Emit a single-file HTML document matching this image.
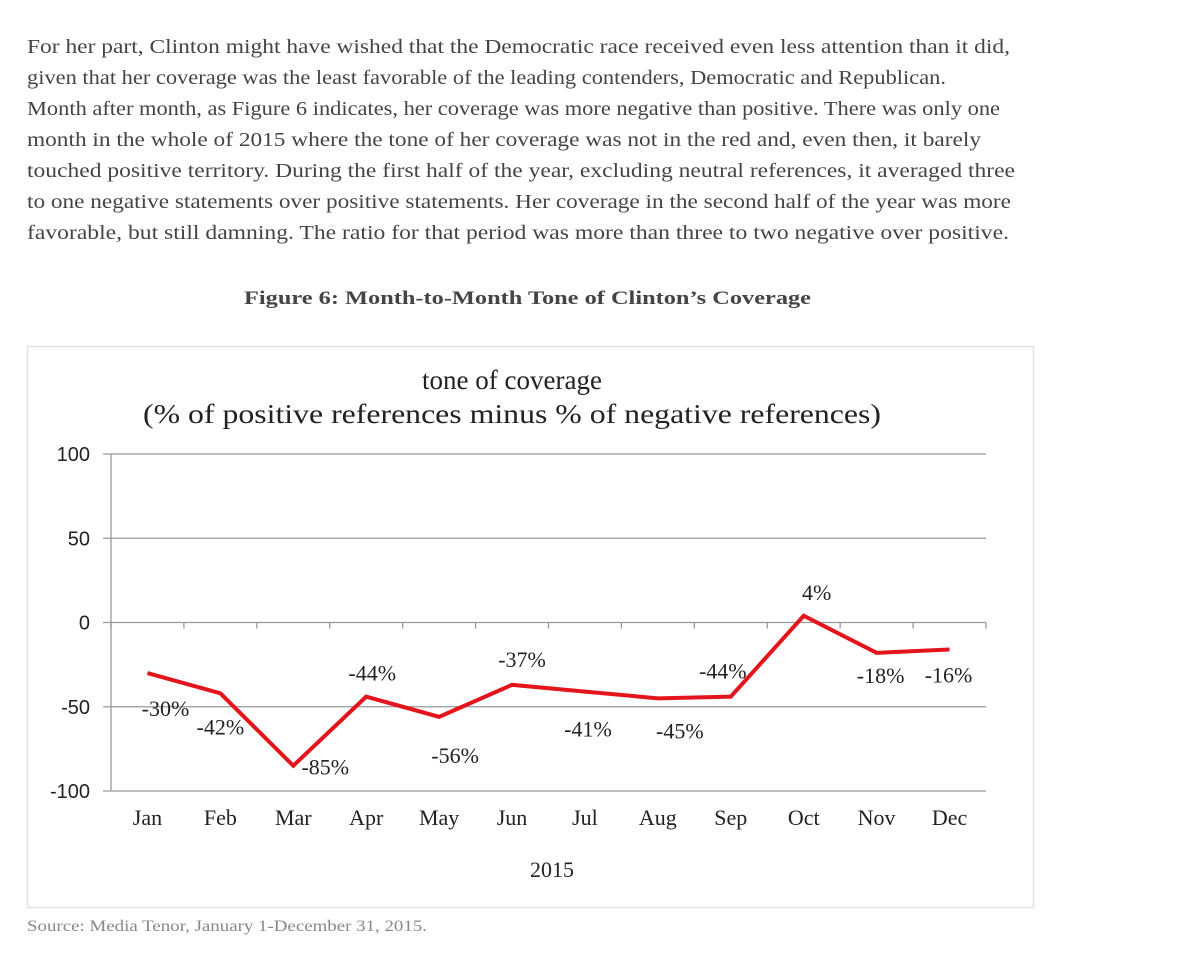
<!DOCTYPE html>
<html><head><meta charset="utf-8"><style>
html,body{margin:0;padding:0;background:#fff;width:1200px;height:975px;overflow:hidden}
svg{display:block}
.p{font-family:"Liberation Serif",serif;font-size:19.5px;fill:#444}
</style></head><body>
<svg id="page" width="1200" height="975" viewBox="0 0 1200 975">
<g>
<text class="p" x="27" y="53" textLength="983" lengthAdjust="spacingAndGlyphs">For her part, Clinton might have wished that the Democratic race received even less attention than it did,</text>
<text class="p" x="27" y="84" textLength="919" lengthAdjust="spacingAndGlyphs">given that her coverage was the least favorable of the leading contenders, Democratic and Republican.</text>
<text class="p" x="27" y="115" textLength="973" lengthAdjust="spacingAndGlyphs">Month after month, as Figure 6 indicates, her coverage was more negative than positive. There was only one</text>
<text class="p" x="27" y="146" textLength="954" lengthAdjust="spacingAndGlyphs">month in the whole of 2015 where the tone of her coverage was not in the red and, even then, it barely</text>
<text class="p" x="27" y="177" textLength="988" lengthAdjust="spacingAndGlyphs">touched positive territory. During the first half of the year, excluding neutral references, it averaged three</text>
<text class="p" x="27" y="208" textLength="984" lengthAdjust="spacingAndGlyphs">to one negative statements over positive statements. Her coverage in the second half of the year was more</text>
<text class="p" x="27" y="239" textLength="982" lengthAdjust="spacingAndGlyphs">favorable, but still damning. The ratio for that period was more than three to two negative over positive.</text>
</g>
<text x="244" y="304" textLength="567" lengthAdjust="spacingAndGlyphs" style="font-family:'Liberation Serif',serif;font-weight:bold;font-size:19px;fill:#444">Figure 6: Month-to-Month Tone of Clinton’s Coverage</text>
<rect x="27.5" y="346.5" width="1006" height="561" fill="#fff" stroke="#e2e2e2" stroke-width="1.5"/>
<g style="font-family:'Liberation Serif',serif;font-size:27px;fill:#222" text-anchor="middle">
<text x="512" y="389">tone of coverage</text>
<text x="512" y="423" textLength="738" lengthAdjust="spacingAndGlyphs">(% of positive references minus % of negative references)</text>
</g>
<g id="chart"></g>
<text x="552" y="877" text-anchor="middle" style="font-family:'Liberation Serif',serif;font-size:22px;fill:#222">2015</text>
<text x="27" y="931" textLength="400" lengthAdjust="spacingAndGlyphs" style="font-family:'Liberation Serif',serif;font-size:16px;fill:#888">Source: Media Tenor, January 1-December 31, 2015.</text>
</svg>
<script>
const categories=["Jan","Feb","Mar","Apr","May","Jun","Jul","Aug","Sep","Oct","Nov","Dec"];
const values=[-30,-42,-85,-44,-56,-37,-41,-45,-44,4,-18,-16];
const yTicks=[100,50,0,-50,-100];
const labelDx=[18,0,32,6,16,10,3,22,-8,13,4,-1];
const labelDy=[43,41,9,-16,46,-18,45,40,-18,-16,30,33];
const NS="http://www.w3.org/2000/svg";
const g=document.getElementById('chart');
const X0=111,X1=986,Ymin=-100,Ymax=100,PY0=791,PY1=454;
const bw=(X1-X0)/categories.length;
function xs(i){return X0+bw*(i+0.5);}
function ys(v){return PY0-(v-Ymin)/(Ymax-Ymin)*(PY0-PY1);}
function mk(t,a){const e=document.createElementNS(NS,t);for(const k in a)e.setAttribute(k,a[k]);g.appendChild(e);return e;}
yTicks.forEach(v=>{
  const l=mk('line',{x1:X0-8,x2:X1,y1:ys(v),y2:ys(v),stroke:'#999','stroke-width':1.3});
  
  
  const t=mk('text',{x:90,y:ys(v)+7,'text-anchor':'end',style:"font-family:'Liberation Sans',sans-serif;font-size:20px;fill:#222"});
  t.textContent=v;
  
  
});
const ax=mk('line',{x1:X0,x2:X0,y1:PY1,y2:PY0,stroke:'#999','stroke-width':1.3});


for(let i=0;i<=categories.length;i++){
  const tk=mk('line',{x1:X0+bw*i,x2:X0+bw*i,y1:ys(0),y2:ys(0)+6,stroke:'#999','stroke-width':1.3});
  
  
}
categories.forEach((c,i)=>{
  const t=mk('text',{x:xs(i),y:825,'text-anchor':'middle',style:"font-family:'Liberation Serif',serif;font-size:22px;fill:#222"});
  t.textContent=c;
  
  
});
const pl=mk('polyline',{points:values.map((v,i)=>xs(i)+','+ys(v)).join(' '),fill:'none',stroke:'#e3141b','stroke-width':4,'stroke-linejoin':'miter'});


values.forEach((v,i)=>{
  const t=mk('text',{x:xs(i)+labelDx[i],y:ys(v)+labelDy[i],'text-anchor':'middle',style:"font-family:'Liberation Serif',serif;font-size:22px;fill:#222"});
  t.textContent=v+'%';
  
  
});
</script>
</body></html>
